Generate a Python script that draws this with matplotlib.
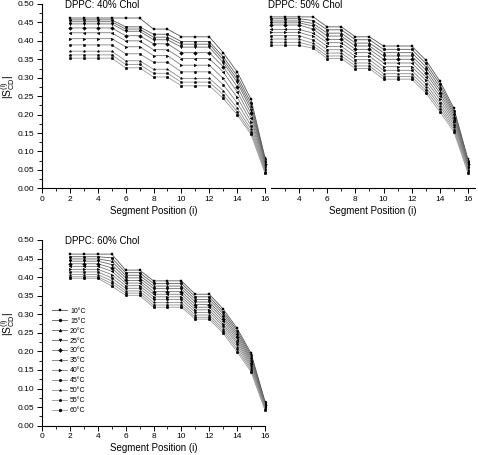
import matplotlib
matplotlib.use("Agg")
import matplotlib.pyplot as plt
from matplotlib.ticker import MultipleLocator, FixedLocator, FormatStrFormatter

plt.rcParams['font.family'] = ['Liberation Sans', 'DejaVu Sans']
plt.rcParams['mathtext.fontset'] = 'custom'
plt.rcParams['mathtext.rm'] = 'Liberation Sans'
plt.rcParams['mathtext.it'] = 'Liberation Sans:italic'

positions = [2, 3, 4, 5, 6, 7, 8, 9, 10, 11, 12, 13, 14, 15, 16]
temperatures = ["10°C", "15°C", "20°C", "25°C", "30°C", "35°C", "40°C", "45°C", "50°C", "55°C", "60°C"]

chol40 = [
    [0.462, 0.462, 0.462, 0.462, 0.462, 0.462, 0.432, 0.432, 0.411, 0.411, 0.411, 0.368, 0.316, 0.241, 0.083],
    [0.457, 0.457, 0.457, 0.457, 0.438, 0.438, 0.418, 0.418, 0.398, 0.398, 0.398, 0.357, 0.305, 0.231, 0.079],
    [0.452, 0.452, 0.452, 0.452, 0.432, 0.432, 0.410, 0.410, 0.391, 0.391, 0.391, 0.349, 0.296, 0.222, 0.075],
    [0.446, 0.446, 0.446, 0.446, 0.426, 0.426, 0.403, 0.403, 0.383, 0.383, 0.383, 0.341, 0.288, 0.213, 0.071],
    [0.435, 0.435, 0.435, 0.435, 0.414, 0.414, 0.392, 0.392, 0.368, 0.368, 0.368, 0.330, 0.276, 0.203, 0.067],
    [0.422, 0.422, 0.422, 0.422, 0.400, 0.400, 0.376, 0.376, 0.352, 0.352, 0.352, 0.316, 0.262, 0.192, 0.062],
    [0.406, 0.406, 0.406, 0.406, 0.384, 0.384, 0.360, 0.360, 0.334, 0.334, 0.334, 0.298, 0.247, 0.181, 0.058],
    [0.389, 0.389, 0.389, 0.389, 0.365, 0.365, 0.342, 0.342, 0.316, 0.316, 0.316, 0.281, 0.232, 0.170, 0.053],
    [0.372, 0.372, 0.372, 0.372, 0.346, 0.346, 0.323, 0.323, 0.298, 0.298, 0.298, 0.265, 0.218, 0.160, 0.049],
    [0.362, 0.362, 0.362, 0.362, 0.336, 0.336, 0.312, 0.312, 0.288, 0.288, 0.288, 0.254, 0.208, 0.152, 0.045],
    [0.353, 0.353, 0.353, 0.353, 0.327, 0.327, 0.302, 0.302, 0.278, 0.278, 0.278, 0.244, 0.200, 0.146, 0.041],
]

chol50 = [
    [0.465, 0.465, 0.465, 0.465, 0.438, 0.438, 0.411, 0.411, 0.386, 0.386, 0.386, 0.348, 0.291, 0.217, 0.079],
    [0.460, 0.460, 0.460, 0.455, 0.430, 0.430, 0.403, 0.403, 0.377, 0.377, 0.377, 0.339, 0.283, 0.211, 0.075],
    [0.454, 0.454, 0.454, 0.447, 0.421, 0.421, 0.394, 0.394, 0.368, 0.368, 0.368, 0.330, 0.275, 0.205, 0.072],
    [0.449, 0.449, 0.449, 0.440, 0.413, 0.413, 0.386, 0.386, 0.359, 0.359, 0.359, 0.321, 0.267, 0.199, 0.068],
    [0.443, 0.443, 0.443, 0.432, 0.404, 0.404, 0.377, 0.377, 0.350, 0.350, 0.350, 0.312, 0.259, 0.192, 0.065],
    [0.431, 0.431, 0.431, 0.421, 0.395, 0.395, 0.368, 0.368, 0.340, 0.340, 0.340, 0.302, 0.250, 0.186, 0.061],
    [0.423, 0.423, 0.423, 0.412, 0.385, 0.385, 0.358, 0.358, 0.330, 0.330, 0.330, 0.293, 0.241, 0.179, 0.058],
    [0.414, 0.414, 0.414, 0.402, 0.376, 0.376, 0.349, 0.349, 0.320, 0.320, 0.320, 0.283, 0.232, 0.172, 0.054],
    [0.405, 0.405, 0.405, 0.393, 0.367, 0.367, 0.340, 0.340, 0.311, 0.311, 0.311, 0.274, 0.224, 0.165, 0.050],
    [0.396, 0.396, 0.396, 0.386, 0.359, 0.359, 0.332, 0.332, 0.303, 0.303, 0.303, 0.266, 0.216, 0.159, 0.046],
    [0.388, 0.388, 0.388, 0.380, 0.352, 0.352, 0.325, 0.325, 0.296, 0.296, 0.296, 0.259, 0.208, 0.153, 0.042],
]

chol60 = [
    [0.462, 0.462, 0.462, 0.462, 0.419, 0.419, 0.390, 0.390, 0.390, 0.354, 0.354, 0.314, 0.262, 0.195, 0.065],
    [0.455, 0.455, 0.455, 0.452, 0.412, 0.412, 0.383, 0.383, 0.383, 0.347, 0.347, 0.307, 0.256, 0.190, 0.063],
    [0.449, 0.449, 0.449, 0.443, 0.405, 0.405, 0.376, 0.376, 0.376, 0.340, 0.340, 0.301, 0.250, 0.185, 0.061],
    [0.443, 0.443, 0.443, 0.434, 0.398, 0.398, 0.369, 0.369, 0.369, 0.333, 0.333, 0.294, 0.244, 0.180, 0.058],
    [0.436, 0.436, 0.436, 0.425, 0.391, 0.391, 0.361, 0.361, 0.361, 0.326, 0.326, 0.288, 0.238, 0.175, 0.056],
    [0.429, 0.429, 0.429, 0.416, 0.384, 0.384, 0.354, 0.354, 0.354, 0.319, 0.319, 0.281, 0.232, 0.170, 0.054],
    [0.421, 0.421, 0.421, 0.407, 0.377, 0.377, 0.347, 0.347, 0.347, 0.312, 0.312, 0.274, 0.226, 0.165, 0.052],
    [0.414, 0.414, 0.414, 0.398, 0.370, 0.370, 0.340, 0.340, 0.340, 0.305, 0.305, 0.268, 0.220, 0.160, 0.050],
    [0.407, 0.407, 0.407, 0.390, 0.363, 0.363, 0.332, 0.332, 0.332, 0.298, 0.298, 0.261, 0.213, 0.155, 0.047],
    [0.401, 0.401, 0.401, 0.383, 0.357, 0.357, 0.325, 0.325, 0.325, 0.292, 0.292, 0.255, 0.206, 0.150, 0.044],
    [0.397, 0.397, 0.397, 0.376, 0.351, 0.351, 0.319, 0.319, 0.319, 0.287, 0.287, 0.249, 0.199, 0.145, 0.042],
]

markers = ['s', 'o', '^', 'v', 'D', '<', '>', 'h', '*', 'p', 'o']
line_colors = ['#555555', '#5c5c5c', '#636363', '#6a6a6a', '#717171', '#787878',
               '#7f7f7f', '#868686', '#8d8d8d', '#949494', '#9b9b9b']

W, H = 478, 455
fig = plt.figure(figsize=(W / 100, H / 100), dpi=100)

def px_axes(x0, y0, x1, y1):
    return fig.add_axes([x0 / W, 1 - y1 / H, (x1 - x0) / W, (y1 - y0) / H])

ax40 = px_axes(42, 4, 265, 188.3)
ax50 = px_axes(271, 4, 475, 188.3)
ax60 = px_axes(42, 240, 265, 425.7)

ylabel = r'$|\mathrm{S}^{(\mathrm{i})}_{\mathrm{CD}}|$'

def style(ax, show_y=True):
    ax.set_ylim(0, 0.5)
    for s in ['top', 'right']:
        ax.spines[s].set_visible(False)
    ax.spines['bottom'].set_linewidth(0.8)
    ax.spines['left'].set_linewidth(0.8)
    ax.tick_params(axis='both', which='major', direction='out', length=3.5, width=0.7, labelsize=6, pad=2)
    ax.tick_params(axis='both', which='minor', direction='out', length=2, width=0.6)
    ax.xaxis.set_minor_locator(MultipleLocator(1))
    if show_y:
        ax.yaxis.set_major_locator(MultipleLocator(0.05))
        ax.yaxis.set_minor_locator(MultipleLocator(0.025))
        ax.yaxis.set_major_formatter(FormatStrFormatter('%.2f'))
        ax.set_ylabel(ylabel, fontsize=7.5)
        ax.yaxis.set_label_coords(-0.113, 0.55)
    else:
        ax.spines['left'].set_visible(False)
        ax.set_yticks([])
    ax.set_xlabel('Segment Position (i)', fontsize=7, labelpad=2)

def draw(ax, data, label=False):
    for k, row in enumerate(data):
        ax.plot(positions, row, color=line_colors[k], lw=0.6, marker=markers[k],
                markersize=1.9, markerfacecolor='black', markeredgecolor='black',
                markeredgewidth=0.3, clip_on=False,
                label=temperatures[k] if label else None)

draw(ax40, chol40)
style(ax40)
ax40.set_xlim(0, 16)
ax40.xaxis.set_major_locator(MultipleLocator(2))
ax40.text(1.65, 0.497, 'DPPC: 40% Chol', fontsize=7, va='center', ha='left')

draw(ax50, chol50)
style(ax50, show_y=False)
ax50.set_xlim(2, 16.5)
ax50.xaxis.set_major_locator(FixedLocator([4, 6, 8, 10, 12, 14, 16]))
ax50.xaxis.set_minor_locator(FixedLocator([3, 5, 7, 9, 11, 13, 15]))
ax50.text(1.8, 0.497, 'DPPC: 50% Chol', fontsize=7, va='center', ha='left')

draw(ax60, chol60, label=True)
style(ax60)
ax60.set_xlim(0, 16)
ax60.xaxis.set_major_locator(MultipleLocator(2))
ax60.text(1.65, 0.497, 'DPPC: 60% Chol', fontsize=7, va='center', ha='left')
ax60.legend(loc='upper left', bbox_to_anchor=(0.045, 0.635), frameon=False,
            fontsize=5, handlelength=2.2, handletextpad=0.4, labelspacing=0.42,
            borderpad=0, borderaxespad=0, markerscale=1.1)

fig.savefig('out.png', dpi=100)
